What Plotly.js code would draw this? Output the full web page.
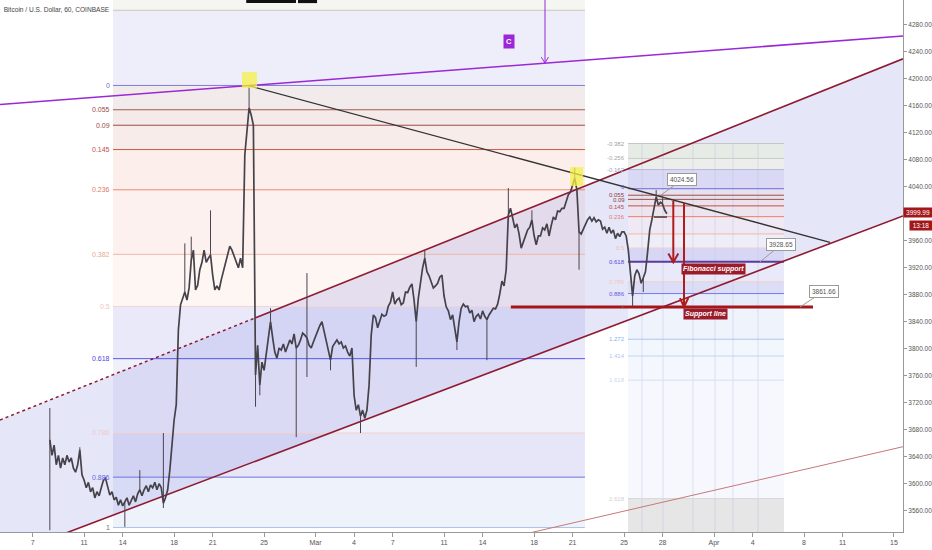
<!DOCTYPE html>
<html><head><meta charset="utf-8">
<script src="https://cdn.plot.ly/plotly-3.0.1.min.js"></script>
<style>html,body{margin:0;padding:0;background:#fff}#chart{width:932px;height:550px}</style>
</head><body><div id="chart"></div>
<script>
// ---------- DATA ----------
const seriesStartUTC = [2019, 1, 8, 8];   // 2019-02-08 08:00, 60-min chart sampled every 4 hours
const stepHours = 4;
const prices = [
3665,3642,3657,3628,3642,3623,3638,3628,3642,3632,
3638,3623,3617,3628,3650,3613,3605,3594,3602,3588,
3594,3579,3588,3582,3594,3605,3608,3597,3583,3588,
3576,3580,3568,3576,3567,3573,3579,3568,3576,3582,
3573,3585,3591,3582,3591,3597,3588,3598,3594,3602,
3591,3600,3594,3571,3579,3591,3620,3657,3694,3717,
3828,3865,3875,3884,3872,3890,3931,3946,3887,3894,
3917,3928,3946,3928,3934,3939,3909,3887,3893,3887,
3902,3914,3924,3939,3952,3946,3937,3931,3920,3934,
3920,4087,4127,4157,4146,4131,3761,3805,3746,3780,
3768,3795,3820,3840,3816,3795,3786,3801,3798,3807,
3795,3804,3813,3807,3822,3801,3805,3813,3823,3820,
3816,3805,3801,3810,3819,3828,3834,3840,3825,3810,
3795,3783,3803,3808,3813,3807,3810,3801,3804,3795,
3789,3801,3731,3709,3717,3700,3709,3697,3709,3746,
3820,3850,3846,3831,3843,3851,3848,3850,3863,3869,
3884,3866,3872,3875,3865,3868,3884,3883,3891,3896,
3872,3840,3875,3902,3920,3934,3914,3908,3899,3890,
3893,3897,3906,3909,3878,3862,3856,3843,3850,3828,
3810,3840,3860,3866,3862,3863,3853,3857,3840,3848,
3851,3844,3856,3848,3843,3850,3856,3860,3859,3866,
3881,3900,3893,3917,3998,4008,3994,3979,3985,3970,
3949,3958,3970,3976,3980,3991,3968,3954,3967,3967,
3979,3976,3985,3967,3982,3995,3991,4004,4003,4008,
4008,4017,4028,4032,4044,4053,4035,3973,3970,3977,
3985,3991,3995,3989,3994,3988,3991,3989,3977,3980,
3971,3980,3971,3976,3963,3971,3966,3973,3973,3967,
3946,3917,3878,3908,3917,3911,3897,3905,3914,3943,
3976,3991,4010,4025,4013,4017,4014,4005,4000
];
const wickIdx = [0,14,35,42,53,63,66,75,93,96,98,103,115,120,131,145,171,175,190,204,214,225,245,247,272,277,283,286];
const wickHi  = [3712,3654,3573,3620,3675,3956,3966,4005,4189,3761,3746,3860,3801,3912,3783,3700,3840,3946,3810,3843,4038,4005,4068,3973,3878,3905,4035,4026];
const wickLo  = [3531,3650,3536,3591,3564,3884,3931,3939,4157,3714,3731,3840,3669,3758,3768,3675,3773,3934,3798,3783,3998,3991,4053,3917,3862,3884,4025,4014];

const tickDates  = ['2019-02-07','2019-02-11','2019-02-14','2019-02-18','2019-02-21','2019-02-25','2019-03-01','2019-03-04','2019-03-07','2019-03-11','2019-03-14','2019-03-18','2019-03-21','2019-03-25','2019-03-28','2019-04-01','2019-04-04','2019-04-08','2019-04-11','2019-04-15'];
const tickLabels = ['7','11','14','18','21','25','Mar','4','7','11','14','18','21','25','28','Apr','4','8','11','15'];
// price scale labels (4000.00 is hidden behind the last-price tag in the reference)
const yTickVals = [3560,3600,3640,3680,3720,3760,3800,3840,3880,3920,3960,4040,4080,4120,4160,4200,4240,4280];
const xRange = ['2019-02-04 10:57','2019-04-15 16:50'];
const yRange = [3528.4, 4316.6];

// Fibonacci retracement drawings
const leftFib = {start:'2019-02-13 05:56', end:'2019-03-21 23:03', p0:4190, p1:3535};
const leftLevels = [-0.3,-0.17,0,0.055,0.09,0.145,0.236,0.382,0.5,0.618,0.786,0.886,1];
const leftBands  = ['#f5f5f2','#eeeefb','#f2ebec','#f5eaea','#f8ecea','#fbeeeb','#fcf1ee','#fdf6f3','#e9e9f9','#f0f0fb','#e6e6f8','#eef2fb'];
const leftLines  = [null,'#c8c8bb','#7c7cdc','#a05a50','#a04a48','#cc5a48','#eb8a72','#edb6a8','#f2d4d0','#5656e6','#f4d2cc','#7070e0','#a9c3e6'];
const leftLabelC = [null,null,'#6b6bd6','#9a4a48','#9a4a48','#c0504a','#e07a66','#e8a898','#ebc8c0','#4a4ae0','#efcac4','#6868e0','#707070'];

const rightFib = {start:'2019-03-25 07:25', end:'2019-04-06 10:33', p0:4037, p1:3861.66};
const rightLevels = [-0.382,-0.256,-0.162,0,0.055,0.09,0.145,0.236,0.382,0.5,0.618,0.786,0.886,1,1.272,1.414,1.618,2.618,3.2];
const rightBands  = ['#e6ebe6','#ebeeeb','#d9d9f5','#e7e1ee','#e9e1ec','#ebe2ec','#ede4ee','#eee9f4','#efedf8','#d7d7f5','#e9e9f9','#dcdef7','#e8ecfa','#eef3fc','#f2f6fd','#f4f7fd','#f6f8fd','#e6e6e6'];
const rightLines  = ['#c2c8c2','#c8ccc8','#b8b8dc','#6a6ae0','#9b5050','#9b5050','#c0504a','#e8806a','#f0b8a8','#f3d3cf','#5a3a9a','#f0d0c8','#7878e8','#a01818','#aac8f0','#c3d5f3','#d5e0f5','#d8d8d8',null];
const rightLabelC = ['#a0a0a0','#a8a8a8','#a0a0c8','#6060d8','#8b4040','#8b4040','#b84a40','#e08070',null,'#f0c0b0','#4a4ae0','#f0c8c0','#6060e0','#888888','#8ab0e8','#b0c8f0','#c8d8f4','#d0d0d0',null];
const rightLabelShift = [0,0,0,2,0,-1,-1,0,0,0,0,0,0,0,0,0,0,0,0];
const rightGridTimes = ['2019-03-26 09:33','2019-03-28 00:46','2019-03-30 08:46','2019-04-01 01:51','2019-04-02 11:27','2019-04-04 10:08'];

// Trend lines [t0, p0, t1, p1]
const channelUpperDotted = ['2019-02-04 10:57',3694.4,'2019-02-24 07:02',3845.5];
const channelUpper = ['2019-02-24 07:02',3845.5,'2019-04-15 16:50',4229.5];
const channelLower = ['2019-02-04 10:57',3489.9,'2019-04-15 16:50',3996.7];
const purpleLine   = ['2019-02-04 10:57',4161.8,'2019-04-15 16:50',4263.3];
const blackLine    = ['2019-02-23 21:42',4189.2,'2019-04-10 00:33',3957.6];
const lightRedLine = ['2019-03-16 08:24',3521.3,'2019-04-15 16:50',3654.8];
const supportLine  = ['2019-03-16 04:42',3861.66,'2019-04-08 16:48',3861.66];
const rangeBase    = ['2019-03-27 07:55',3995,'2019-03-28 08:10',3995];
const yellowBoxes  = [['2019-02-23 06:45','2019-02-24 10:48',4186,4210],['2019-03-20 19:26','2019-03-21 19:41',4041,4069]];
const topLabelBoxes = [['2019-02-23 14:38','2019-02-27 11:32'],['2019-02-27 15:16','2019-03-01 02:53']];
// arrows: shaft time, from, tip, wing-left time, wing-right time, wing price
const redArrows = [
  ['2019-03-28 19:59',4019,3928,'2019-03-28 10:39','2019-03-29 05:19',3941],
  ['2019-03-29 15:58',4016,3862,'2019-03-29 08:24','2019-03-30 00:00',3875]
];
const purpleArrow = ['2019-03-18 20:27',4340,4223.3,'2019-03-18 13:26','2019-03-19 02:53',4232];
// callouts: tip time, tip price, text, ax, ay
const callouts = [
  ['2019-03-27 21:00',4027.7,'4024.56',21,-15],
  ['2019-04-04 13:55',3928.65,'3928.65',21,-17],
  ['2019-04-07 16:32',3861.66,'3861.66',24,-16]
];
const lastPrice = 3999.99;
const lastTime = '13:18';

// ---------- BUILD ----------
const FONT = 'Liberation Sans, Arial, sans-serif';
function fmt(ms){const d=new Date(ms);const p=n=>String(n).padStart(2,'0');
  return d.getUTCFullYear()+'-'+p(d.getUTCMonth()+1)+'-'+p(d.getUTCDate())+' '+p(d.getUTCHours())+':'+p(d.getUTCMinutes());}
const t0 = Date.UTC(...seriesStartUTC);
const times = prices.map((_,i)=>fmt(t0 + i*stepHours*3600e3));
const wx=[], wy=[];
wickIdx.forEach((k,j)=>{wx.push(times[k],times[k],null);wy.push(wickHi[j],wickLo[j],null);});

const shapes=[];
function rect(x0,x1,y0,y1,fill,layer,op){shapes.push({type:'rect',xref:'x',yref:'y',x0,x1,y0,y1,fillcolor:fill,opacity:op||1,line:{width:0},layer:layer||'below'});}
function seg(a,color,width,dash,layer){shapes.push({type:'line',xref:'x',yref:'y',x0:a[0],y0:a[1],x1:a[2],y1:a[3],line:{color,width,dash:dash||'solid'},layer:layer||'below'});}
function path(pts,color,width,fill,layer){
  const d=pts.map((p,i)=>(i?'L':'M')+p[0].replace(' ','_')+','+p[1]).join('')+(fill?'Z':'');
  shapes.push({type:'path',xref:'x',yref:'y',path:d,line:{color:color||'rgba(0,0,0,0)',width:width||0},fillcolor:fill||'rgba(0,0,0,0)',layer:layer||'below'});
}
const fp=(f,l)=>f.p0+l*(f.p1-f.p0);

for(let i=0;i<leftBands.length;i++) rect(leftFib.start,leftFib.end,fp(leftFib,leftLevels[i]),fp(leftFib,leftLevels[i+1]),leftBands[i]);
path([[channelUpperDotted[0],channelUpperDotted[1]],[channelUpper[2],channelUpper[3]],[channelLower[2],channelLower[3]],[channelLower[0],channelLower[1]]],null,0,'rgba(128,128,225,0.2)');
for(let i=0;i<rightBands.length;i++) rect(rightFib.start,rightFib.end,fp(rightFib,rightLevels[i]),fp(rightFib,rightLevels[i+1]),rightBands[i]);
rightGridTimes.forEach(t=>seg([t,fp(rightFib,rightLevels[0]),t,fp(rightFib,3.2)],'rgba(185,195,228,0.45)',1));
leftLevels.forEach((l,i)=>{ if(leftLines[i]) seg([leftFib.start,fp(leftFib,l),leftFib.end,fp(leftFib,l)],leftLines[i],1); });
rightLevels.forEach((l,i)=>{ if(rightLines[i]) seg([rightFib.start,fp(rightFib,l),rightFib.end,fp(rightFib,l)],rightLines[i],l===0.618?2:1); });
seg(channelUpperDotted,'#8e1b30',1.5,'dot');
seg(channelUpper,'#8e1b30',1.6);
seg(channelLower,'#8e1b30',1.6);
seg(lightRedLine,'#c87878',1);
seg(purpleLine,'#9b27d6',1.6);
seg(blackLine,'#333333',1.3);
seg(supportLine,'#a3161a',3);
seg(rangeBase,'#222222',1.2);
redArrows.forEach(a=>{
  seg([a[0],a[1],a[0],a[2]],'#b01c1c',2);
  path([[a[3],a[5]],[a[0],a[2]],[a[4],a[5]]],'#b01c1c',2);
});
seg([purpleArrow[0],purpleArrow[1],purpleArrow[0],purpleArrow[2]],'#9b27d6',1);
path([[purpleArrow[3],purpleArrow[5]],[purpleArrow[0],purpleArrow[2]],[purpleArrow[4],purpleArrow[5]]],'#9b27d6',1);
yellowBoxes.forEach(b=>rect(b[0],b[1],b[2],b[3],'rgba(245,240,70,0.75)','above'));
topLabelBoxes.forEach(b=>rect(b[0],b[1],4312,4340,'#111111','above'));

const ann=[];
leftLevels.forEach((l,i)=>{ if(leftLabelC[i]) ann.push({x:leftFib.start,y:fp(leftFib,l),xref:'x',yref:'y',text:String(l),showarrow:false,xanchor:'right',yanchor:'middle',xshift:-1,font:{size:7,color:leftLabelC[i],family:FONT}}); });
rightLevels.forEach((l,i)=>{ if(rightLabelC[i]) ann.push({x:rightFib.start,y:fp(rightFib,l),xref:'x',yref:'y',text:String(l),showarrow:false,xanchor:'right',yanchor:'middle',xshift:-1,yshift:rightLabelShift[i],font:{size:6,color:rightLabelC[i],family:FONT}}); });
callouts.forEach(c=>ann.push({x:c[0],y:c[1],xref:'x',yref:'y',text:c[2],showarrow:true,arrowhead:0,arrowwidth:1,arrowcolor:'#9a9a9a',ax:c[3],ay:c[4],bgcolor:'#ffffff',bordercolor:'#9a9a9a',borderwidth:1,borderpad:2,font:{size:6.5,color:'#555',family:FONT}}));
ann.push({x:'2019-03-31 23:03',y:3918.8,xref:'x',yref:'y',text:'<b><i>Fibonacci support</i></b>',showarrow:false,bgcolor:'#9b1b2b',borderpad:1,font:{size:7,color:'#fff',family:FONT}});
ann.push({x:'2019-03-31 08:08',y:3851.4,xref:'x',yref:'y',text:'<b><i>Support line</i></b>',showarrow:false,bgcolor:'#9b1b2b',borderpad:1,font:{size:7,color:'#fff',family:FONT}});
ann.push({x:'2019-03-16 02:10',y:4255.1,xref:'x',yref:'y',text:'<b>C</b>',showarrow:false,bgcolor:'#9b27d6',borderpad:2,font:{size:7.5,color:'#fff',family:FONT}});
ann.push({x:1,xref:'paper',y:lastPrice,yref:'y',yshift:1,text:lastPrice.toFixed(2),showarrow:false,xanchor:'left',yanchor:'middle',bgcolor:'#a3161a',borderpad:1,width:26,font:{size:6.5,color:'#fff',family:FONT}});
ann.push({x:1,xref:'paper',y:lastPrice,yref:'y',yshift:-12,xshift:6,text:lastTime,showarrow:false,xanchor:'left',yanchor:'middle',bgcolor:'#a3161a',borderpad:1,width:20,font:{size:6.5,color:'#fff',family:FONT}});

const traces=[
  {x:wx,y:wy,mode:'lines',line:{color:'#4a4450',width:1},hoverinfo:'skip'},
  {x:times,y:prices,mode:'lines',line:{color:'#46424a',width:1.7},name:'BTCUSD'}
];
const layout={
  width:932,height:550,margin:{l:0,r:29,t:0,b:18},
  paper_bgcolor:'#ffffff',plot_bgcolor:'#ffffff',showlegend:false,
  title:{text:'Bitcoin / U.S. Dollar, 60, COINBASE',x:0.004,xanchor:'left',y:0.982,yanchor:'middle',font:{size:6.6,color:'#444',family:FONT}},
  xaxis:{type:'date',range:xRange,tickvals:tickDates,ticktext:tickLabels,showgrid:false,zeroline:false,showline:true,linecolor:'#999',ticks:'outside',ticklen:4,tickcolor:'#999',tickfont:{size:7,color:'#555',family:FONT},fixedrange:true},
  yaxis:{side:'right',range:yRange,tickvals:yTickVals,tickformat:'.2f',showgrid:false,zeroline:false,showline:true,linecolor:'#999',ticks:'outside',ticklen:3,tickcolor:'#999',tickfont:{size:6.5,color:'#555',family:FONT},fixedrange:true},
  shapes:shapes,annotations:ann
};
Plotly.newPlot('chart',traces,layout,{displayModeBar:false,staticPlot:true});
</script></body></html>
